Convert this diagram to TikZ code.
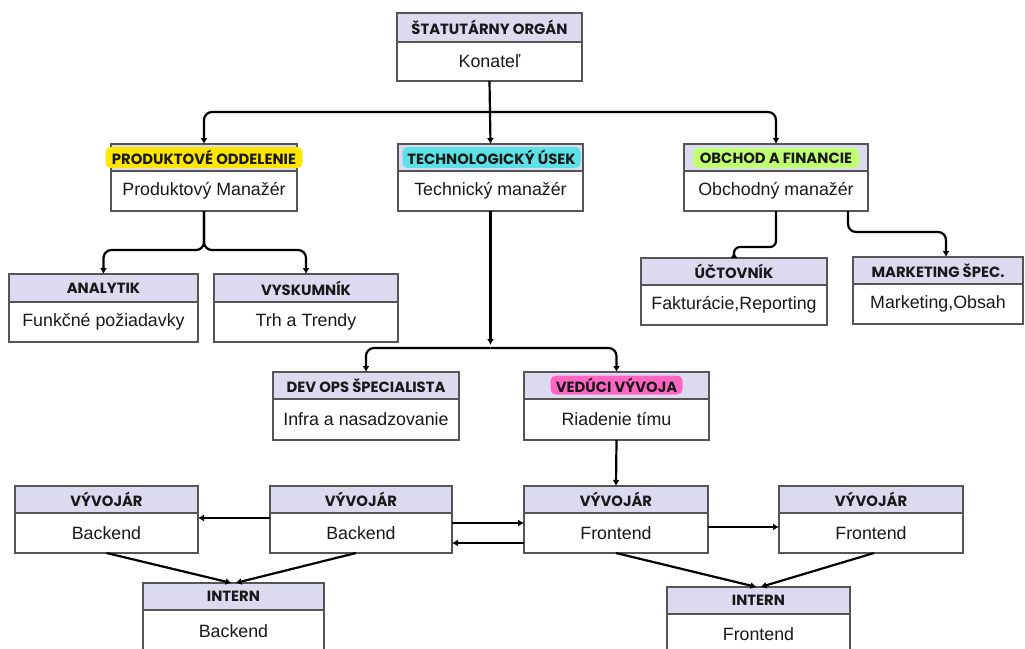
\documentclass[tikz,border=0pt]{standalone}
\usepackage{fontspec}
\setmainfont{Liberation Sans}
\newfontfamily\hdfont{Poppins}
\usetikzlibrary{arrows.meta,calc}

\definecolor{hdrfill}{RGB}{220,218,238}
\definecolor{boxline}{RGB}{85,85,85}
\definecolor{txt}{RGB}{25,25,25}
\definecolor{hlyellow}{RGB}{255,230,0}
\definecolor{hlcyan}{RGB}{92,225,230}
\definecolor{hlgreen}{RGB}{193,255,114}
\definecolor{hlpink}{RGB}{255,102,196}

\tikzset{
  hdr/.style={draw=boxline, line width=1.3pt, fill=hdrfill, inner sep=0pt, outer sep=0pt,
    text=txt, font=\hdfont\bfseries\fontsize{14.8}{16}\selectfont},
  bdy/.style={draw=boxline, line width=1.3pt, fill=white, inner sep=0pt, outer sep=0pt,
    text=txt, font=\fontsize{17.8}{20}\selectfont},
  tag/.style={rounded corners=5pt, inner sep=0pt, minimum height=21pt, text=txt,
    font=\hdfont\bfseries\fontsize{14.8}{16}\selectfont},
  arr/.style={line width=2.2pt, black, -{Latex[length=6pt,width=7pt]}},
  rc/.style={rounded corners=8pt},
}

% card: name, centre x, top y, width, header height, body height, header, body
\newcommand\card[8]{%
  \node[hdr, minimum width=#4pt, minimum height=#5pt, anchor=north] (#1H) at (#2,#3) {#7};
  \node[bdy, minimum width=#4pt, minimum height=#6pt, anchor=north] (#1) at (#1H.south) {#8};
}

\begin{document}
\begin{tikzpicture}[x=1pt, y=-1pt]
\useasboundingbox[fill=white] (0,0) rectangle (1025,648);

% management
\card{stat}{489.5}{13}{185}{29}{39}{ŠTATUTÁRNY ORGÁN}{Konateľ}

% departments
\card{prod}{204}{144}{186}{27}{40}{}{Produktový Manažér}
\node[tag, fill=hlyellow, minimum width=197pt] (prodT) at (prodH.center) {PRODUKTOVÉ ODDELENIE};
\card{tech}{490.5}{144}{185}{27}{40}{}{Technický manažér}
\node[tag, fill=hlcyan, minimum width=178pt] (techT) at ($(techH.center)+(1,0)$) {TECHNOLOGICKÝ ÚSEK};
\card{obch}{776}{144}{184}{27}{40}{}{Obchodný manažér}
\node[tag, fill=hlgreen, minimum width=166pt, minimum height=20pt] (obchT) at ($(obchH.center)+(0,0.5)$) {OBCHOD A FINANCIE};

% product team
\card{anal}{103.5}{274}{189}{28}{40}{ANALYTIK}{Funkčné požiadavky}
\card{vysk}{306}{274}{184}{28}{40}{VYSKUMNÍK}{Trh a Trendy}

% finance team
\card{uct}{734}{258}{186}{27}{40}{ÚČTOVNÍK}{Fakturácie,Reporting}
\card{mkt}{938}{257}{170}{27}{40}{MARKETING ŠPEC.}{Marketing,Obsah}

% technology team
\card{dev}{366}{372}{186}{27}{41}{DEV OPS ŠPECIALISTA}{Infra a nasadzovanie}
\card{ved}{616.5}{372}{185}{27}{41}{}{Riadenie tímu}
\node[tag, fill=hlpink, minimum width=132pt, minimum height=19pt] (vedT) at ($(vedH.center)+(0,-0.5)$) {VEDÚCI VÝVOJA};

% developers
\card{bkl}{106.5}{486}{183}{27}{40}{VÝVOJÁR}{Backend}
\card{bkm}{361}{486}{182}{27}{40}{VÝVOJÁR}{Backend}
\card{frm}{616}{486}{184}{27}{40}{VÝVOJÁR}{Frontend}
\card{frr}{871}{486}{184}{27}{40}{VÝVOJÁR}{Frontend}

% interns
\card{inb}{233.5}{583}{181}{27}{42}{INTERN}{Backend}
\card{inf}{758.5}{587}{183}{27}{40}{INTERN}{Frontend}

% connectors: management to departments
\coordinate (j1) at (489.5,112);
\draw[arr,rc] (j1) -| (prodH.north);
\draw[arr,rc] (j1) -| (obchH.north);
\draw[arr] (stat.south) -- (techH.north);

% product department
\coordinate (j2) at (204,250);
\draw[arr,rc] (prod.south) -- (j2) -| (analH.north);
\draw[arr,rc] (prod.south) -- (j2) -| (vyskH.north);

% technology department
\coordinate (j3) at (490.5,348);
\draw[arr] (tech.south) -- ($(j3)+(0,-3)$);
\draw[arr,rc] (j3) -| (devH.north);
\draw[arr,rc] (j3) -| (vedH.north);

% finance department
\draw[arr,rounded corners=6pt] (obch.south) |- ($(uctH.north)+(0,-11)$) -- ($(uctH.north)+(0,-6)$);
\draw[arr,rc] ([xshift=-20pt]obch.south east) -- ++(0,21) -| ([xshift=8pt]mktH.north);

% development
\draw[arr] (ved.south) -- (frmH.north);
\draw[arr] ($(bkm.north west)+(0,5)$) -- ($(bkl.north east)+(0,5)$);
\draw[arr] ($(bkm.north east)+(0,10)$) -- ($(frm.north west)+(0,10)$);
\draw[arr] ($(frm.north west)+(0,30)$) -- ($(bkm.north east)+(0,30)$);
\draw[arr] ($(frm.north east)+(0,14)$) -- ($(frr.north west)+(0,14)$);

% interns
\draw[arr] (bkl.south) -- ($(inbH.north)+(-2,0)$);
\draw[arr] ($(bkm.south)+(-5,0)$) -- ($(inbH.north)+(2,0)$);
\draw[arr] (frm.south) -- ($(infH.north)+(-2,0)$);
\draw[arr] ($(frr.south)+(3,0)$) -- ($(infH.north)+(2,0)$);
\end{tikzpicture}
\end{document}
